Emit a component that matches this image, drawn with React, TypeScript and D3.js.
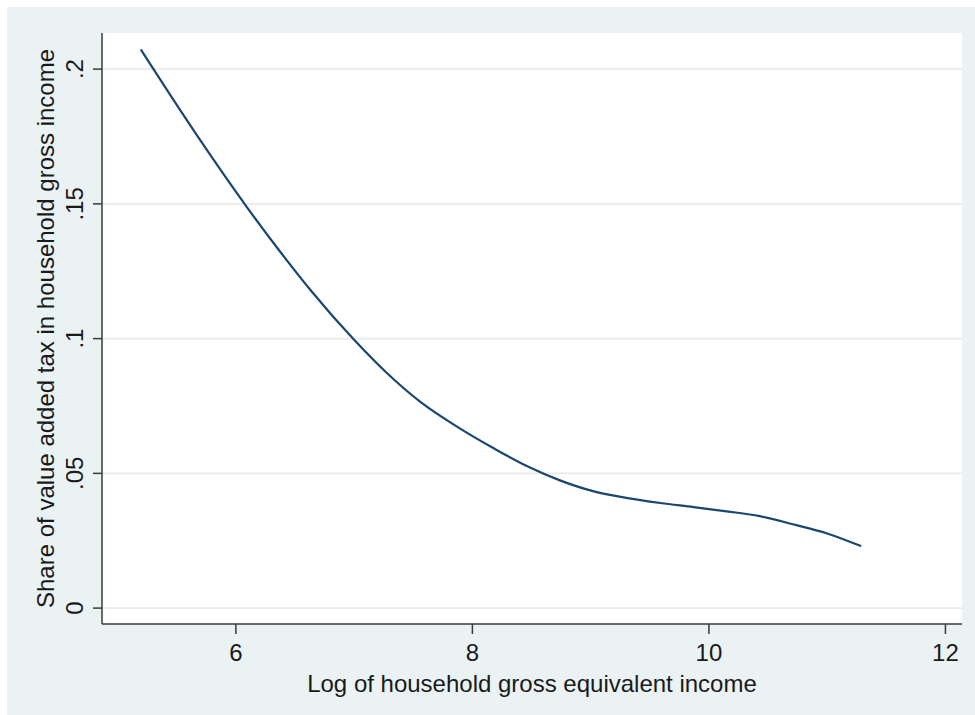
import * as d3 from 'd3';

// smoothed VAT share by log income
const incomeLog = [5.2, 5.67, 6.09, 6.37, 6.65, 6.99, 7.27, 7.56, 7.9, 8.18, 8.46, 8.74, 9.02, 9.3, 9.59, 9.87, 10.15, 10.43, 10.71, 11.0, 11.28];
const vatShare = [0.207, 0.1755, 0.149, 0.1325, 0.117, 0.1, 0.0875, 0.0765, 0.0665, 0.0593, 0.0527, 0.0474, 0.0434, 0.0409, 0.039, 0.0375, 0.0359, 0.0341, 0.0311, 0.0277, 0.0231];

const xTicks = [6, 8, 10, 12];
const yTicks = [0, 0.05, 0.1, 0.15, 0.2];
const yTickLabels = ['0', '.05', '.1', '.15', '.2'];

const W = 975;
const H = 715;
const plot = { left: 102, right: 962, top: 33, bottom: 624 };
const FONT = '"Liberation Sans", Arial, sans-serif';
const FS = 24;

export default function App() {
  const x = d3.scaleLinear().domain([4.868, 12.14]).range([plot.left, plot.right]);
  const y = d3.scaleLinear().domain([-0.0059, 0.2134]).range([plot.bottom, plot.top]);

  const pts = incomeLog.map((v, i) => [v, vatShare[i]] as [number, number]);
  const path = d3.line<[number, number]>()
    .x((d) => x(d[0]))
    .y((d) => y(d[1]))
    .curve(d3.curveMonotoneX)(pts) ?? '';

  const cx = (plot.left + plot.right) / 2;
  const cy = (plot.top + plot.bottom) / 2;

  return (
    <>
      <style>{'body{margin:0}'}</style>
      <svg width={W} height={H} style={{ display: 'block' }}>
        <rect x={0} y={0} width={W} height={H} fill="#ffffff" />
        <rect x={7} y={7} width={W - 7} height={H - 7} fill="#eaf2f3" />
        <rect x={plot.left} y={plot.top} width={plot.right - plot.left} height={plot.bottom - plot.top} fill="#ffffff" />

        {yTicks.map((t) => (
          <line key={'g' + t} x1={plot.left} x2={plot.right} y1={y(t)} y2={y(t)} stroke="#eaeaea" strokeWidth={1.6} />
        ))}

        <path d={path} fill="none" stroke="#1a476f" strokeWidth={2.2} strokeLinejoin="round" strokeLinecap="round" />

        {/* axes */}
        <line x1={plot.left} x2={plot.left} y1={plot.top} y2={plot.bottom} stroke="#3a3a3a" strokeWidth={1.5} />
        <line x1={plot.left} x2={plot.right} y1={plot.bottom} y2={plot.bottom} stroke="#3a3a3a" strokeWidth={1.5} />

        {yTicks.map((t, i) => (
          <g key={'y' + t}>
            <line x1={plot.left - 9} x2={plot.left} y1={y(t)} y2={y(t)} stroke="#3a3a3a" strokeWidth={1.5} />
            <text
              transform={`translate(83,${y(t)}) rotate(-90)`}
              textAnchor="middle"
              fontFamily={FONT}
              fontSize={FS}
              fill="#1a1a1a"
            >
              {yTickLabels[i]}
            </text>
          </g>
        ))}

        {xTicks.map((t) => (
          <g key={'x' + t}>
            <line x1={x(t)} x2={x(t)} y1={plot.bottom} y2={plot.bottom + 10} stroke="#3a3a3a" strokeWidth={1.5} />
            <text x={x(t)} y={661} textAnchor="middle" fontFamily={FONT} fontSize={FS} fill="#1a1a1a">
              {t}
            </text>
          </g>
        ))}

        <text x={cx} y={692} textAnchor="middle" fontFamily={FONT} fontSize={FS} fill="#1a1a1a">
          Log of household gross equivalent income
        </text>
        <text
          transform={`translate(54,${cy}) rotate(-90)`}
          textAnchor="middle"
          fontFamily={FONT}
          fontSize={FS}
          fill="#1a1a1a"
        >
          Share of value added tax in household gross income
        </text>
      </svg>
    </>
  );
}
